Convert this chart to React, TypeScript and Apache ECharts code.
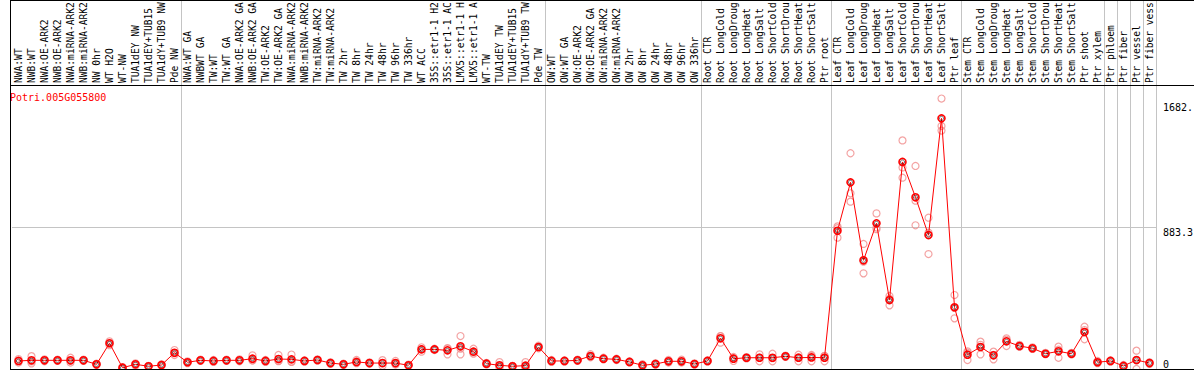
import React, { useEffect, useRef } from 'react';
import * as echarts from 'echarts';

const geneName = 'Potri.005G055800';

// sample labels, as the chart prints them (cut to 14 characters)
const categories = [
  'NWA:WT', 'NWB:WT', 'NWA:OE-ARK2', 'NWB:OE-ARK2', 'NWA:miRNA-ARK2', 'NWB:miRNA-ARK2', 'NW 0hr', 'WT H2O', 'WT-NW',
  'TUA1dEY NW', 'TUA1dEY+TUB15', 'TUA1dY+TUB9 NW', 'Pde NW',
  'NWA:WT GA', 'NWBWT GA', 'TW:WT', 'TW:WT GA', 'NWA:OE-ARK2 GA', 'NWB:OE-ARK2 GA', 'TW:OE-ARK2', 'TW:OE-ARK2 GA',
  'NWA:miRNA-ARK2', 'NWB:miRNA-ARK2', 'TW:miRNA-ARK2', 'TW:miRNA-ARK2', 'TW 2hr', 'TW 8hr', 'TW 24hr', 'TW 48hr',
  'TW 96hr', 'TW 336hr', 'WT ACC', '35S::etr1-1 H2', '35S::etr1-1 AC', 'LMX5::etr1-1 H', 'LMX5::etr1-1 A',
  'WT-TW', 'TUA1dEY TW', 'TUA1dEY+TUB15', 'TUA1dY+TUB9 TW', 'Pde TW',
  'OW:WT', 'OW:WT GA', 'OW:OE-ARK2', 'OW:OE-ARK2 GA', 'OW:miRNA-ARK2', 'OW:miRNA-ARK2', 'OW 2hr', 'OW 8hr',
  'OW 24hr', 'OW 48hr', 'OW 96hr', 'OW 336hr',
  'Root CTR', 'Root LongCold', 'Root LongDroug', 'Root LongHeat', 'Root LongSalt', 'Root ShortCold',
  'Root ShortDrou', 'Root ShortHeat', 'Root ShortSalt', 'Ptr root',
  'Leaf CTR', 'Leaf LongCold', 'Leaf LongDroug', 'Leaf LongHeat', 'Leaf LongSalt', 'Leaf ShortCold',
  'Leaf ShortDrou', 'Leaf ShortHeat', 'Leaf ShortSalt', 'Ptr leaf',
  'Stem CTR', 'Stem LongCold', 'Stem LongDroug', 'Stem LongHeat', 'Stem LongSalt', 'Stem ShortCold',
  'Stem ShortDrou', 'Stem ShortHeat', 'Stem ShortSalt', 'Ptr shoot',
  'Ptr xylem', 'Ptr phloem', 'Ptr fiber', 'Ptr vessel', 'Ptr fiber vess',
];

const meanValues = [
  50, 54, 54, 54, 54, 54, 29, 160, 8, 29, 17, 25, 101,
  42, 54, 50, 54, 54, 64, 50, 62, 60, 50, 56, 37, 29, 44, 37, 37, 37, 23,
  122, 122, 116, 141, 108, 33, 23, 17, 21, 137,
  50, 50, 54, 81, 64, 60, 44, 23, 31, 48, 48, 31,
  50, 191, 64, 70, 70, 70, 79, 70, 72, 70,
  860, 1161, 676, 906, 429, 1288, 1068, 833, 1559, 384,
  89, 137, 85, 172, 143, 129, 95, 110, 95, 230,
  42, 50, 19, 56, 37,
];

const replicates = [
  [62, 40, 50], [80, 35, 47], [60, 48, 54], [58, 50, 54], [70, 40, 52], [58, 50, 54], [33, 25, 29],
  [172, 160, 148], [12, 4, 8], [35, 22, 30], [20, 14, 17], [30, 20, 25], [118, 98, 87],
  [48, 36, 42], [58, 50, 54], [56, 44, 50], [58, 50, 54], [60, 48, 54], [85, 54, 53], [56, 44, 50],
  [87, 50, 49], [90, 44, 46], [54, 46, 50], [60, 52, 56], [42, 32, 37], [33, 25, 29], [56, 36, 40],
  [41, 33, 37], [55, 20, 36], [50, 28, 33], [27, 19, 23],
  [135, 123, 108], [126, 118, 122], [130, 127, 91], [205, 127, 91], [126, 103, 95], [38, 28, 33],
  [43, 10, 16], [20, 12, 19], [43, 8, 12], [145, 137, 129],
  [56, 44, 50], [54, 46, 50], [58, 50, 54], [92, 78, 73], [70, 60, 62], [64, 56, 60], [48, 40, 44],
  [30, 17, 22], [36, 26, 31], [56, 40, 48], [58, 40, 46], [35, 27, 31],
  [54, 46, 50], [205, 204, 164], [75, 67, 50], [74, 66, 70], [91, 70, 48], [95, 67, 48], [83, 75, 79],
  [89, 73, 48], [87, 81, 48], [82, 80, 48],
  [887, 876, 817], [1342, 1093, 1041], [778, 668, 595], [968, 880, 870], [454, 437, 396],
  [1422, 1254, 1190], [1263, 1047, 894], [941, 848, 715], [1682.5, 1512, 1483], [460, 380, 315],
  [101, 110, 56], [170, 150, 91], [108, 87, 60], [191, 182, 143], [150, 140, 139], [135, 125, 127],
  [100, 92, 93], [139, 120, 70], [100, 90, 95], [263, 242, 185],
  [50, 36, 40], [54, 46, 50], [25, 14, 18], [114, 54, 0], [42, 32, 37],
];

// y axis: top = 1.05 x max replicate, one grid line at half, label at the max value
const axisMax = 1766.6;
const midTick = 883.3;
const maxTick = 1682.5;
const maxTickLabel = '1682.';

// indices of the first category of each block (separator lines drawn before them)
const groupStarts = [13, 41, 53, 63, 73, 84, 85, 86, 87];

export default function App() {
  const ref = useRef<HTMLDivElement>(null);

  useEffect(() => {
    document.body.style.margin = '0';
    const chart = echarts.init(ref.current as HTMLDivElement, null, { renderer: 'svg' });
    const font = 'DejaVu Sans Mono';
    const repData = replicates.flatMap((r, i) => r.map((v) => [i, v]));
    const meanData = meanValues.map((v, i) => [i, v]);
    const clear = 'rgba(0,0,0,0)';

    const hiddenValueAxis = (labelValues: number[], align: string, pad: number[], split: boolean) => ({
      type: 'value',
      gridIndex: 0,
      position: 'right',
      min: 0,
      max: axisMax,
      interval: midTick,
      axisLine: { show: false },
      axisTick: { show: false },
      splitLine: { show: split, lineStyle: { color: '#c4c4c4', width: 1 } },
      axisLabel: {
        customValues: labelValues,
        formatter: (v: number) => (Math.abs(v - maxTick) < 0.01 ? maxTickLabel : String(v)),
        verticalAlign: align,
        padding: pad,
        margin: 7,
        fontSize: 10,
        fontFamily: font,
        color: '#000000',
      },
    });

    chart.setOption({
      animation: false,
      backgroundColor: '#ffffff',
      title: {
        text: geneName,
        left: 10,
        top: 92,
        padding: 0,
        textStyle: { fontSize: 10, fontFamily: font, color: '#ff0000', fontWeight: 'normal' },
      },
      grid: [
        { left: 12, right: 38, top: 85, bottom: 1, containLabel: false, outerBoundsMode: 'none' },
        { left: 12, right: 38, top: 0, bottom: 1, containLabel: false, outerBoundsMode: 'none' },
      ],
      xAxis: [
        {
          type: 'category',
          gridIndex: 0,
          position: 'top',
          data: categories,
          boundaryGap: true,
          axisLine: { show: false },
          axisTick: { show: false },
          splitLine: { show: false },
          axisLabel: {
            interval: 0,
            rotate: 90,
            margin: 2,
            fontSize: 9.6,
            fontFamily: font,
            color: '#000000',
            hideOverlap: false,
          },
        },
        {
          type: 'category',
          gridIndex: 1,
          data: categories,
          boundaryGap: true,
          axisLine: { show: false },
          axisTick: { show: false },
          axisLabel: { show: false },
          splitLine: {
            show: true,
            interval: (i: number) => groupStarts.includes(i),
            lineStyle: { color: '#c4c4c4', width: 1 },
          },
        },
      ],
      yAxis: [
        hiddenValueAxis([midTick], 'top', [0, 0, 0, 0], true),
        hiddenValueAxis([0], 'bottom', [0, 0, 0, 0], false),
        hiddenValueAxis([maxTick], 'top', [4, 0, 0, 0], false),
        { type: 'value', gridIndex: 1, show: false },
      ],
      series: [
        {
          type: 'scatter',
          xAxisIndex: 0,
          yAxisIndex: 0,
          data: repData,
          symbol: 'circle',
          symbolSize: 7,
          itemStyle: { color: clear, borderColor: '#f08c8c', borderWidth: 1.2 },
          z: 2,
          silent: true,
        },
        {
          type: 'line',
          xAxisIndex: 0,
          yAxisIndex: 0,
          data: meanValues,
          symbol: 'circle',
          symbolSize: 7,
          showSymbol: true,
          lineStyle: { color: '#ff0000', width: 1 },
          itemStyle: { color: clear, borderColor: '#ff0000', borderWidth: 1.6 },
          z: 3,
          silent: true,
        },
        {
          type: 'scatter',
          xAxisIndex: 0,
          yAxisIndex: 0,
          data: meanData,
          symbol: 'circle',
          symbolSize: 4,
          itemStyle: { color: clear, borderColor: '#000000', borderWidth: 1, opacity: 0.55 },
          z: 4,
          silent: true,
        },
      ],
      graphic: [
        { type: 'line', shape: { x1: 10.5, y1: 0, x2: 10.5, y2: 370 }, style: { stroke: '#000', lineWidth: 1 }, z: 10 },
        { type: 'line', shape: { x1: 10, y1: 0.5, x2: 1194, y2: 0.5 }, style: { stroke: '#000', lineWidth: 1 }, z: 10 },
        { type: 'line', shape: { x1: 10, y1: 85.5, x2: 1194, y2: 85.5 }, style: { stroke: '#000', lineWidth: 1 }, z: 10 },
        { type: 'line', shape: { x1: 10, y1: 369.5, x2: 1194, y2: 369.5 }, style: { stroke: '#000', lineWidth: 1 }, z: 10 },
      ],
    });

    return () => chart.dispose();
  }, []);

  return (
    <div
      ref={ref}
      style={{ width: 1194, height: 370, position: 'absolute', left: 0, top: 0 }}
    />
  );
}
